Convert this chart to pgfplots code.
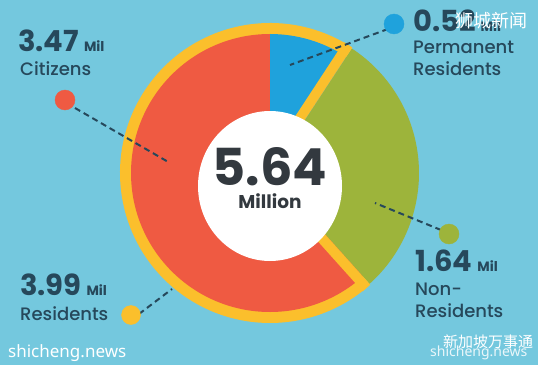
\documentclass[border=0pt]{standalone}
\usepackage{pgfplots}
\pgfplotsset{compat=1.18}
\usepackage{fontspec}
\setmainfont{Poppins}
\IfFontExistsTF{Poppins Medium}{\newfontfamily\popmed{Poppins Medium}}{\newfontfamily\popmed{Poppins}}
\IfFontExistsTF{Poppins SemiBold}{\newfontfamily\popsemi{Poppins SemiBold}}{\newfontfamily\popsemi{Poppins}[FakeBold=0]}
\newfontfamily\cjk{Noto Sans CJK SC}
\newfontfamily\noto{Noto Sans}
\usetikzlibrary{calc}
\definecolor{bg}{HTML}{74C8DE}
\definecolor{cred}{HTML}{EF5A42}
\definecolor{cblue}{HTML}{1FA2DC}
\definecolor{cgreen}{HTML}{9DB43B}
\definecolor{cyel}{HTML}{FBBF2C}
\definecolor{ctxt}{HTML}{26485B}
\definecolor{cdark}{HTML}{33393F}
% data (million)
\def\vCit{3.47}\def\vPR{0.52}\def\vNR{1.64}
\pgfmathsetmacro\tot{\vCit+\vPR+\vNR}
\pgfmathsetmacro\aPR{90-360*\vPR/\tot}
\pgfmathsetmacro\aNR{\aPR-360*\vNR/\tot}
\pgfmathsetmacro\aNRb{\aNR+360}
\pgfmathsetmacro\aPRn{\aPR+90}
\pgfmathsetmacro\aNRn{\aNR-90}
\newcommand\bignum[1]{{\fontsize{29}{29}\selectfont\bfseries #1}}
\newcommand\mil{\hspace{5pt}{\fontsize{13.5}{13.5}\selectfont\bfseries Mil}}
\newcommand\lab[1]{{\popmed\fontsize{18}{18}\selectfont #1}}
\begin{document}
\begin{tikzpicture}
\begin{axis}[width=538pt,height=365pt,scale only axis,xmin=0,xmax=538,ymin=0,ymax=365,
  axis lines=none,clip=false]
\fill[bg] (axis cs:0,0) rectangle (axis cs:538,365);
\coordinate (C) at (axis cs:270,192);
% green: non-residents
\fill[cgreen] (C) -- ++(\aNR:149pt) arc[start angle=\aNR, end angle=\aPR, radius=149pt] -- cycle;
% yellow: residents
\fill[cyel] (C) -- ++(\aPR:150pt) arc[start angle=\aPR, end angle=\aNRb, radius=150pt] -- cycle;
% red: citizens
\fill[cred] (C) -- ++(90:139pt) arc[start angle=90, end angle=\aNRb, radius=139pt] -- cycle;
% blue: PR
\fill[cblue] (C) -- ++(\aPR:139pt) arc[start angle=\aPR, end angle=90, radius=139pt] -- cycle;
% yellow radial edges
\draw[cyel,line width=10pt] ($(C)+(\aPRn:5pt)$) -- ++(\aPR:150pt);
\draw[cyel,line width=10pt] ($(C)+(\aNRn:5pt)$) -- ++(\aNR:150pt);
% centre
\fill[white] (axis cs:270,179) ellipse[x radius=72pt, y radius=75pt];
\node[anchor=base,text=cdark,inner sep=0pt] at (axis cs:270,180) {\fontsize{51}{51}\selectfont\bfseries 5.64};
\node[anchor=base,text=cdark,inner sep=0pt] at (axis cs:270,157) {\fontsize{18.5}{18.5}\selectfont\bfseries Million};
% leader lines
\addplot[ctxt,line width=2pt,dash pattern=on 6pt off 4pt] coordinates {(75,257) (170,202)};
\addplot[ctxt,line width=2pt,dash pattern=on 6pt off 4pt] coordinates {(388,336) (290,300)};
\addplot[ctxt,line width=2pt,dash pattern=on 6pt off 4pt] coordinates {(441,135) (375,162)};
\addplot[ctxt,line width=2pt,dash pattern=on 6pt off 4pt] coordinates {(139,51) (172,76)};
% dots
\addplot[only marks,mark=*,mark size=10pt,color=cred] coordinates {(65,265)};
\addplot[only marks,mark=*,mark size=10pt,color=cblue] coordinates {(394,341)};
\addplot[only marks,mark=*,mark size=10pt,color=cgreen] coordinates {(449,131)};
\addplot[only marks,mark=*,mark size=9.5pt,color=cyel] coordinates {(131,50)};
% labels
\node[anchor=base west,text=ctxt,inner sep=0pt] at (axis cs:18,313) {\bignum{3.47}\mil};
\node[anchor=base west,text=ctxt,inner sep=0pt] at (axis cs:20,290) {\lab{Citizens}};
\node[anchor=base west,text=ctxt,inner sep=0pt] at (axis cs:413,333) {\bignum{0.52}\mil};
\node[anchor=base west,text=ctxt,inner sep=0pt] at (axis cs:413,312) {\lab{Permanent}};
\node[anchor=base west,text=ctxt,inner sep=0pt] at (axis cs:413,290) {\lab{Residents}};
\node[anchor=base west,text=ctxt,inner sep=0pt] at (axis cs:415,94) {\bignum{1.64}\mil};
\node[anchor=base west,text=ctxt,inner sep=0pt] at (axis cs:415,70) {\lab{Non-}};
\node[anchor=base west,text=ctxt,inner sep=0pt] at (axis cs:415,48) {\lab{Residents}};
\node[anchor=base west,text=ctxt,inner sep=0pt] at (axis cs:20,70) {\bignum{3.99}\mil};
\node[anchor=base west,text=ctxt,inner sep=0pt] at (axis cs:20,45) {\lab{Residents}};
% watermarks
\node[anchor=base west,text=white,inner sep=0pt] at (axis cs:455,337) {\cjk\fontsize{18}{18}\selectfont 狮城新闻};
\node[anchor=base west,text=white,inner sep=0pt] at (axis cs:443,18) {\cjk\fontsize{15}{15}\selectfont 新加坡万事通};
\node[anchor=base west,text=white,inner sep=0pt,opacity=0.85] at (axis cs:430,9) {\noto\fontsize{14}{14}\selectfont shicheng.news};
\node[anchor=base west,text=white,inner sep=0pt] at (axis cs:8,8) {\noto\fontsize{17}{17}\selectfont shicheng.news};
\end{axis}
\end{tikzpicture}
\end{document}
